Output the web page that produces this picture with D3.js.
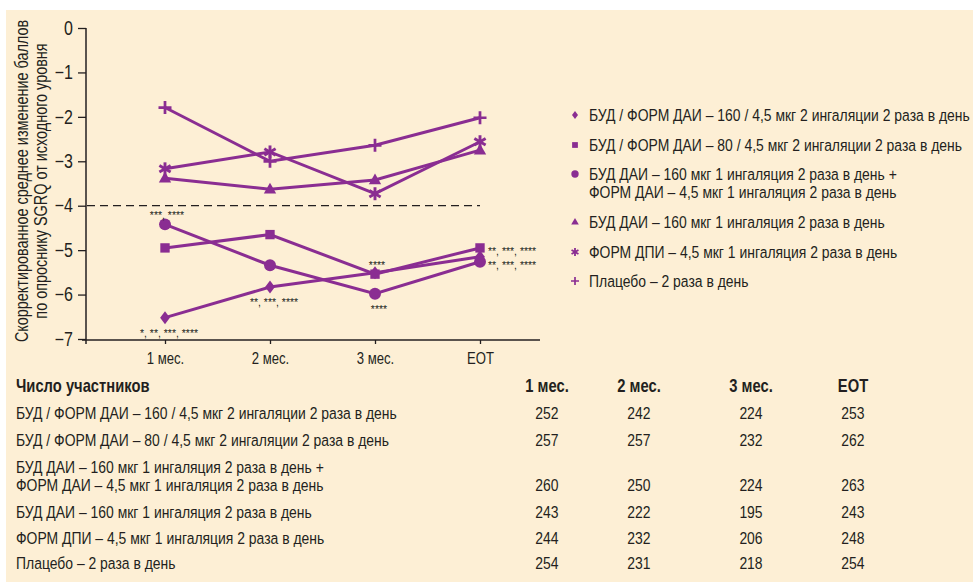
<!DOCTYPE html>
<html>
<head>
<meta charset="utf-8">
<script src="https://cdn.jsdelivr.net/npm/d3@7"></script>
<style>
  body { margin: 0; background: #fff; }
  text { font-family: "Liberation Sans", Arial, sans-serif; fill: #231f20; }
</style>
</head>
<body>
<div id="chart"></div>
<script>
// data
var timepoints = ["1 мес.", "2 мес.", "3 мес.", "EOT"];

var budForm160 = [-6.52, -5.83, -5.51, -5.15];
var budForm80  = [-4.95, -4.65, -5.54, -4.95];
var budPlusForm = [-4.42, -5.34, -5.98, -5.26];
var budAlone   = [-3.38, -3.63, -3.42, -2.75];
var formDpi    = [-3.17, -2.79, -3.73, -2.56];
var placebo    = [-1.79, -3.0, -2.64, -2.02];

var seriesNames = [
  ["БУД / ФОРМ ДАИ – 160 / 4,5 мкг 2 ингаляции 2 раза в день"],
  ["БУД / ФОРМ ДАИ – 80 / 4,5 мкг 2 ингаляции 2 раза в день"],
  ["БУД ДАИ – 160 мкг 1 ингаляция 2 раза в день +", "ФОРМ ДАИ – 4,5 мкг 1 ингаляция 2 раза в день"],
  ["БУД ДАИ – 160 мкг 1 ингаляция 2 раза в день"],
  ["ФОРМ ДПИ – 4,5 мкг 1 ингаляция 2 раза в день"],
  ["Плацебо – 2 раза в день"]
];
var markers = ["diamond", "square", "circle", "triangle", "asterisk", "plus"];

var yTicks = [0, -1, -2, -3, -4, -5, -6, -7];
var thresholdLine = -4;

// significance notes: [series index, timepoint index, text, position]
var notes = [
  [2, 0, "***, ****", "above"],
  [0, 0, "*, **, ***, ****", "below"],
  [0, 1, "**, ***, ****", "below"],
  [1, 2, "****", "above"],
  [2, 2, "****", "below"],
  [1, 3, "**, ***, ****", "right"],
  [2, 3, "**, ***, ****", "right"]
];

// participants table
var tableTitle = "Число участников";
var nCounts = [
  [252, 242, 224, 253],
  [257, 257, 232, 262],
  [260, 250, 224, 263],
  [243, 222, 195, 243],
  [244, 232, 206, 248],
  [254, 231, 218, 254]
];

var yTitle = ["Скорректированное среднее изменение баллов", "по опроснику SGRQ от исходного уровня"];

var allSeries = [budForm160, budForm80, budPlusForm, budAlone, formDpi, placebo];
var purple = "#8a2d92";
var NARROW = 0.82;

// squeeze a text horizontally around its own x, like a condensed face
function narrow(t, x0, k) {
  k = k || NARROW;
  t.attr("transform", "translate(" + x0 + ",0) scale(" + k + ",1) translate(" + (-x0) + ",0)");
  return t;
}

var W = 973, H = 584;
var svg = d3.select("#chart").append("svg")
  .attr("width", W).attr("height", H);

svg.append("rect")
  .attr("x", 6).attr("y", 10)
  .attr("width", W - 6).attr("height", 572)
  .attr("fill", "#fdefd5");

var x = d3.scalePoint().domain(timepoints).range([165, 480]);
var y = d3.scaleLinear().domain([-7, 0]).range([339, 28]);

// axes
var yAxis = svg.append("g")
  .attr("transform", "translate(86,0)")
  .call(d3.axisLeft(y).tickValues(yTicks).tickSize(8).tickPadding(5)
    .tickFormat(function(d) { return d === 0 ? "0" : "−" + Math.abs(d); }));
yAxis.select(".domain").remove();
yAxis.selectAll("line").attr("stroke", "#231f20").attr("stroke-width", 1.3);
yAxis.selectAll("text").style("font-size", "19.5px").attr("fill", "#231f20")
  .attr("transform", "translate(-13,0) scale(" + NARROW + ",1) translate(13,0)");

svg.append("line")
  .attr("x1", 86).attr("x2", 86).attr("y1", y(0)).attr("y2", 344)
  .attr("stroke", "#231f20").attr("stroke-width", 1.5);

var xAxis = svg.append("g")
  .attr("transform", "translate(0,340)")
  .call(d3.axisBottom(x).tickSize(4).tickPadding(9));
xAxis.select(".domain").remove();
xAxis.selectAll("line").attr("stroke", "#231f20").attr("stroke-width", 1.3);
xAxis.selectAll("text").style("font-size", "16px").attr("fill", "#231f20")
  .attr("transform", "scale(" + NARROW + ",1)");

svg.append("line")
  .attr("x1", 82).attr("x2", 540).attr("y1", 340).attr("y2", 340)
  .attr("stroke", "#231f20").attr("stroke-width", 1.5);

// y title
var yt = svg.append("text")
  .attr("transform", "translate(28,181) rotate(-90) scale(" + NARROW + ",1)")
  .attr("text-anchor", "middle")
  .style("font-size", "17.6px");
yt.selectAll("tspan").data(yTitle).enter().append("tspan")
  .attr("x", 0).attr("dy", function(d, i) { return i === 0 ? 0 : 19.5; })
  .text(function(d) { return d; });

// dashed reference line
svg.append("line")
  .attr("x1", 87).attr("x2", 480)
  .attr("y1", y(thresholdLine)).attr("y2", y(thresholdLine))
  .attr("stroke", "#231f20").attr("stroke-width", 1.3)
  .attr("stroke-dasharray", "8,5");

function drawMarker(g, type, size) {
  var s = size;
  if (type === "diamond") {
    g.append("path").attr("d", "M0," + (-s) + "L" + (s * 0.75) + ",0L0," + s + "L" + (-s * 0.75) + ",0Z").attr("fill", purple);
  } else if (type === "square") {
    g.append("rect").attr("x", -s * 0.72).attr("y", -s * 0.72).attr("width", s * 1.44).attr("height", s * 1.44).attr("fill", purple);
  } else if (type === "circle") {
    g.append("circle").attr("r", s * 0.92).attr("fill", purple);
  } else if (type === "triangle") {
    g.append("path").attr("d", "M0," + (-s) + "L" + (s * 0.95) + "," + (s * 0.65) + "L" + (-s * 0.95) + "," + (s * 0.65) + "Z").attr("fill", purple);
  } else if (type === "asterisk") {
    [0, 60, 120].forEach(function(a) {
      g.append("line").attr("x1", 0).attr("y1", -s).attr("x2", 0).attr("y2", s)
        .attr("transform", "rotate(" + a + ")")
        .attr("stroke", purple).attr("stroke-width", s * 0.45);
    });
    g.append("circle").attr("r", s * 0.35).attr("fill", purple);
  } else if (type === "plus") {
    g.append("path").attr("d", "M" + (-s) + ",0H" + s + "M0," + (-s) + "V" + s)
      .attr("stroke", purple).attr("stroke-width", s * 0.42);
  }
}

var line = d3.line()
  .x(function(d, i) { return x(timepoints[i]); })
  .y(function(d) { return y(d); });

allSeries.forEach(function(vals, si) {
  svg.append("path")
    .datum(vals)
    .attr("d", line)
    .attr("fill", "none")
    .attr("stroke", purple)
    .attr("stroke-width", 3);
  vals.forEach(function(v, i) {
    var g = svg.append("g").attr("transform", "translate(" + x(timepoints[i]) + "," + y(v) + ")");
    drawMarker(g, markers[si], 6.5);
  });
});

// notes
notes.forEach(function(n) {
  var px = x(timepoints[n[1]]), py = y(allSeries[n[0]][n[1]]);
  var t = svg.append("text").style("font-size", "11px").attr("fill", "#3a3a3a").text(n[2]);
  if (n[3] === "above") { t.attr("x", px + 2).attr("y", py - 5).attr("text-anchor", "middle"); narrow(t, px + 2, 0.95); }
  else if (n[3] === "below") { t.attr("x", px + 4).attr("y", py + 19).attr("text-anchor", "middle"); narrow(t, px + 4, 0.95); }
  else { t.attr("x", px + 8).attr("y", py + 7); narrow(t, px + 8, 0.95); }
});

// legend
var legendY = [115, 145, 174, 222, 252, 281];
seriesNames.forEach(function(lines, i) {
  var g = svg.append("g").attr("transform", "translate(575," + legendY[i] + ")");
  drawMarker(g, markers[i], 4);
  var t = g.append("text").attr("x", 14).attr("y", 6).style("font-size", "17px");
  t.selectAll("tspan").data(lines).enter().append("tspan")
    .attr("x", 14).attr("dy", function(d, k) { return k === 0 ? 0 : 18.5; })
    .text(function(d) { return d; });
  narrow(t, 14);
});

// table
var colX = [547, 639, 751, 853];
narrow(svg.append("text").attr("x", 16).attr("y", 392)
  .style("font-size", "18px").style("font-weight", "bold").text(tableTitle), 16);
timepoints.forEach(function(tp, j) {
  narrow(svg.append("text").attr("x", colX[j]).attr("y", 392).attr("text-anchor", "middle")
    .style("font-size", "18px").style("font-weight", "bold").text(tp), colX[j]);
});
var rowY = [419, 446, 491, 518, 544, 569];
seriesNames.forEach(function(lines, i) {
  var t = svg.append("text").attr("x", 16).attr("y", rowY[i] - (lines.length - 1) * 18)
    .style("font-size", "17px");
  t.selectAll("tspan").data(lines).enter().append("tspan")
    .attr("x", 16).attr("dy", function(d, k) { return k === 0 ? 0 : 18; })
    .text(function(d) { return d; });
  narrow(t, 16);
  nCounts[i].forEach(function(n, j) {
    narrow(svg.append("text").attr("x", colX[j]).attr("y", rowY[i]).attr("text-anchor", "middle")
      .style("font-size", "17px").text(n), colX[j]);
  });
});
</script>
</body>
</html>
